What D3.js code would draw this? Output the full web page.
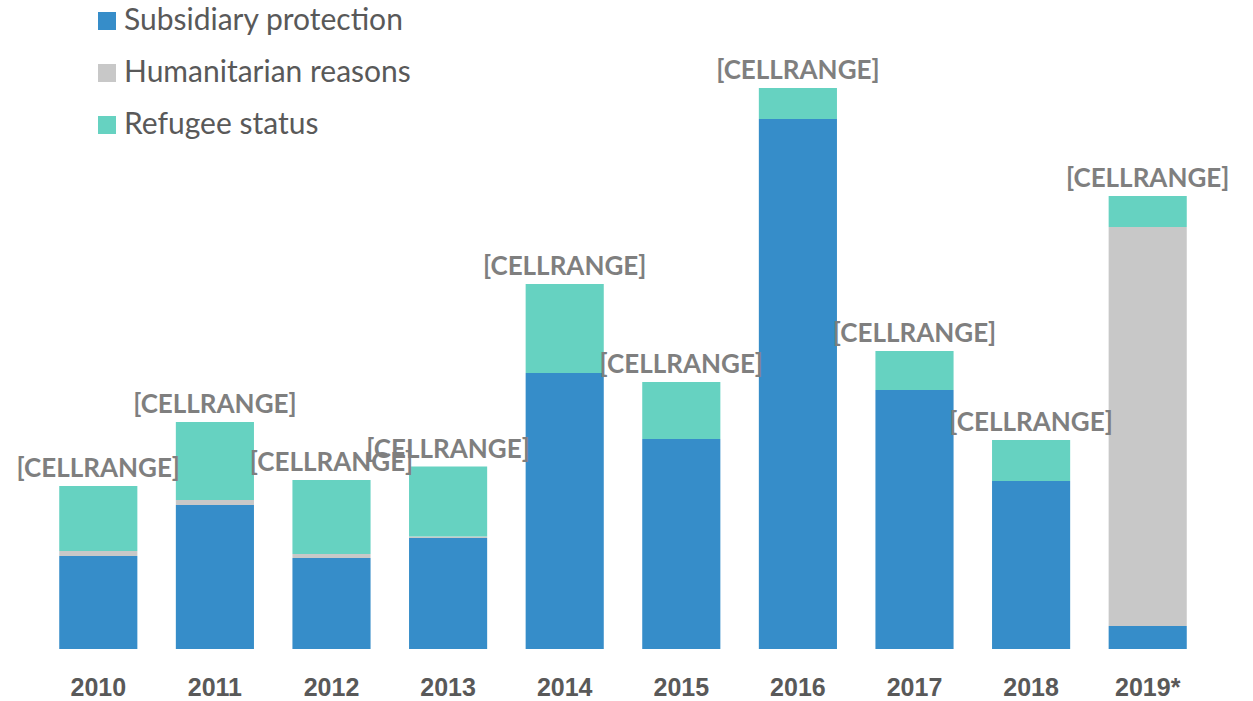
<!DOCTYPE html>
<html>
<head>
<meta charset="utf-8">
<script src="https://cdn.jsdelivr.net/npm/d3@7"></script>
<style>
  body { margin: 0; background: #fff; }
  svg { display: block; font-family: Lato, "Open Sans", sans-serif; }
  .xaxis text { font-size: 25px; font-weight: bold; fill: #595959; }
  .label { font-size: 26px; font-weight: bold; fill: #7f7f7f; }
  .legend text { font-size: 30px; fill: #595959; }
</style>
</head>
<body>
<svg id="chart" width="1253" height="701"></svg>
<script>
// data (arbitrary units)
var years = ["2010","2011","2012","2013","2014","2015","2016","2017","2018","2019*"];
var subsidiary = [93, 144, 91, 111, 276, 210, 530, 259, 168, 23];
var humanitarian = [5, 5, 4, 1.5, 0, 0, 0, 0, 0, 399];
var refugee = [65, 78, 74, 70, 89, 57, 31, 39, 41, 31];
var seriesNames = ["Subsidiary protection", "Humanitarian reasons", "Refugee status"];
var labelText = "[CELLRANGE]";

function chart(){
    var svg = d3.select("#chart");
    var colors = ["#368dc9", "#c8c8c8", "#66d2c1"];

    // build rows for the stack
    var rows = years.map(function(y, i){
        return {year: y, s: subsidiary[i], h: humanitarian[i], r: refugee[i]};
    });
    var stack = d3.stack().keys(["s","h","r"]);
    var layers = stack(rows);

    var xScale = d3.scaleBand().domain(years).range([40, 1206]).paddingInner(0.33).paddingOuter(0.165);
    var maxTotal = d3.max(rows, function(d){ return d.s + d.h + d.r; });
    var yScale = d3.scaleLinear().domain([0, maxTotal]).range([649, 88]);

    // bars
    svg.append("g").selectAll("g")
        .data(layers)
        .enter().append("g")
        .attr("fill", function(d, i){ return colors[i]; })
        .selectAll("rect")
        .data(function(d){ return d; })
        .enter().append("rect")
        .attr("x", function(d){ return xScale(d.data.year); })
        .attr("y", function(d){ return yScale(d[1]); })
        .attr("width", xScale.bandwidth())
        .attr("height", function(d){ return yScale(d[0]) - yScale(d[1]); });

    // data labels above each stack
    svg.append("g").selectAll("text")
        .data(rows)
        .enter().append("text")
        .attr("class", "label")
        .attr("text-anchor", "middle")
        .attr("x", function(d){ return xScale(d.year) + xScale.bandwidth()/2; })
        .attr("y", function(d){ return yScale(d.s + d.h + d.r) - 9; })
        .text(labelText);

    // x axis, no line or ticks
    var xAxis = svg.append("g")
        .attr("class", "xaxis")
        .attr("transform", "translate(0,649)")
        .call(d3.axisBottom(xScale).tickSize(0).tickPadding(29));
    xAxis.select(".domain").remove();
    xAxis.selectAll("text").attr("font-family", null).attr("font-size", null).attr("fill", null);

    // legend
    var legend = svg.append("g").attr("class", "legend")
        .selectAll("g")
        .data(seriesNames)
        .enter().append("g")
        .attr("transform", function(d, i){ return "translate(98," + (12 + i*52) + ")"; });
    legend.append("rect")
        .attr("width", 18).attr("height", 18)
        .attr("fill", function(d, i){ return colors[i]; });
    legend.append("text")
        .attr("x", 26).attr("y", 18)
        .text(function(d){ return d; });
}
chart();
</script>
</body>
</html>
